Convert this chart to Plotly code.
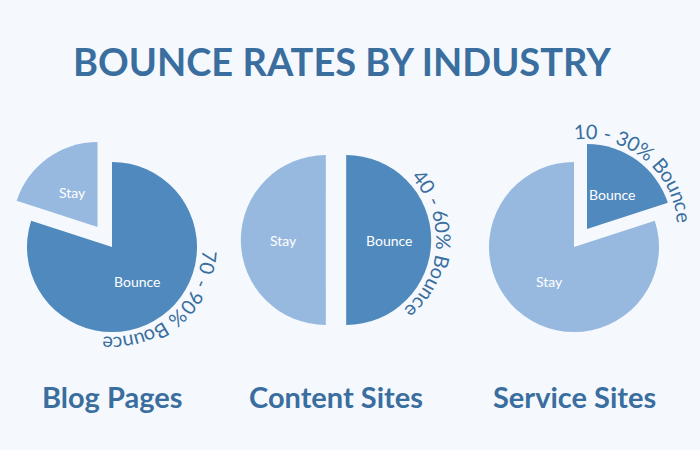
import numpy as np
import plotly.graph_objects as go

# data
industries = ["Blog Pages", "Content Sites", "Service Sites"]
slice_labels = ["Bounce", "Stay"]
bounce_pct = [80, 50, 20]
stay_pct = [20, 50, 80]
bounce_ranges = ["70 - 90%", "40 - 60%", "10 - 30%"]

W, H = 700, 450
BG = "#f5f9fd"
DARK = "#4f89bd"
LIGHT = "#98b9df"
TEXT = "#3a6e9f"
FONT = "Lato"

# layout of each pie in pixels
centers = [(112, 247), (336, 240), (574, 247)]
R = 85
pulls = [[0, 0.29], [0.12, 0.12], [0.26, 0]]
arc_start = [96, 50, -4]   # degrees clockwise from 12 o'clock (first char)
arc_span = 87              # degrees between first and last char
arc_r = 98

# rough glyph widths (em) to space the curved text
glyph_w = {" ": 0.28, "-": 0.4, "%": 0.8, "B": 0.64, "o": 0.58, "u": 0.56,
           "n": 0.56, "c": 0.5, "e": 0.55}


def to_paper(px, py):
    return px / W, 1 - py / H


def label(px, py, text, **kw):
    x, y = to_paper(px, py)
    return dict(x=x, y=y, xref="paper", yref="paper", text=text, showarrow=False,
                xanchor="center", yanchor="middle", **kw)


fig = go.Figure()
annotations = []

for i, name in enumerate(industries):
    cx, cy = centers[i]
    half = R * (1 + max(pulls[i]))
    fig.add_trace(go.Pie(
        labels=slice_labels,
        values=[bounce_pct[i], stay_pct[i]],
        pull=pulls[i],
        sort=False,
        direction="clockwise",
        rotation=0,
        marker=dict(colors=[DARK, LIGHT], line=dict(width=0)),
        textinfo="none",
        hoverinfo="label+percent",
        showlegend=False,
        domain=dict(x=[(cx - half) / W, (cx + half) / W],
                    y=[1 - (cy + half) / H, 1 - (cy - half) / H]),
    ))

    # slice mid angles and pulled centers
    vals = [bounce_pct[i], stay_pct[i]]
    tot = sum(vals)
    start = 0.0
    slice_centers = []
    for j, v in enumerate(vals):
        mid = np.radians(360 * (start + v / 2) / tot)
        start += v
        sx = cx + pulls[i][j] * R * np.sin(mid)
        sy = cy - pulls[i][j] * R * np.cos(mid)
        slice_centers.append((sx, sy))
        annotations.append(label(sx + 0.5 * R * np.sin(mid), sy - 0.5 * R * np.cos(mid),
                                 slice_labels[j],
                                 font=dict(family=FONT, size=14, color="white")))

    # curved label around the bounce slice
    txt = bounce_ranges[i] + " Bounce"
    widths = [glyph_w.get(ch, 0.58) for ch in txt]
    pos = np.cumsum(widths) - np.array(widths) / 2
    pos = (pos - pos[0]) / (pos[-1] - pos[0])
    bx, by = slice_centers[0]
    for ch, p in zip(txt, pos):
        if ch == " ":
            continue
        th = arc_start[i] + p * arc_span
        t = np.radians(th)
        annotations.append(label(bx + arc_r * np.sin(t), by - arc_r * np.cos(t), ch,
                                 textangle=((th + 180) % 360) - 180,
                                 font=dict(family=FONT, size=20, color=TEXT)))

    # industry name under each pie
    annotations.append(label(cx, 396, name,
                             font=dict(family=FONT, size=29, color=TEXT, weight="bold")))

annotations.append(label(342, 61, "BOUNCE RATES BY INDUSTRY",
                         font=dict(family=FONT, size=38, color=TEXT, weight="bold")))

fig.update_layout(
    width=W, height=H,
    margin=dict(l=0, r=0, t=0, b=0),
    paper_bgcolor=BG, plot_bgcolor=BG,
    annotations=annotations,
)

fig.write_html("out.html", config={"displayModeBar": False},
               post_script="document.body.style.margin='0';")
